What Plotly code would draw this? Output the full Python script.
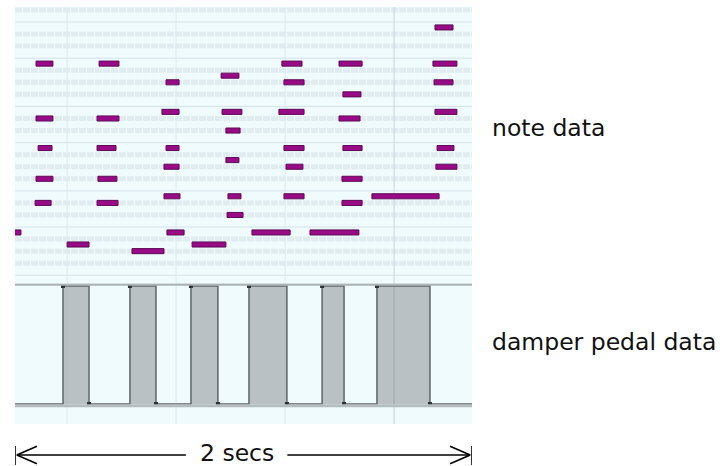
import plotly.graph_objects as go

# ---------------- note events (MIDI pitch, start / end in seconds) ----------------
note_pitch = [88,
              83, 83, 83, 83, 83,
              81,
              80, 80, 80,
              78,
              76, 76, 76, 76,
              75, 75, 75,
              73,
              71, 71, 71, 71, 71, 71,
              69,
              68, 68, 68,
              66, 66, 66,
              64, 64, 64, 64,
              63, 63, 63,
              61,
              59, 59, 59, 59,
              57, 57,
              56]
note_start = [1.838,
              0.092, 0.368, 1.168, 1.418, 1.829,
              0.902,
              0.661, 1.177, 1.834,
              1.435,
              0.643, 0.906, 1.155, 1.838,
              0.092, 0.359, 1.418,
              0.923,
              0.101, 0.359, 0.661, 1.177, 1.435, 1.847,
              0.923,
              0.652, 1.186, 1.842,
              0.092, 0.363, 1.431,
              0.652, 0.932, 1.177, 1.562,
              0.088, 0.359, 1.431,
              0.928,
              -0.030, 0.665, 1.037, 1.291,
              0.228, 0.775,
              0.512]
note_end = [1.917,
            0.166, 0.455, 1.256, 1.519, 1.934,
            0.980,
            0.718, 1.265, 1.917,
            1.514,
            0.718, 0.993, 1.265, 1.934,
            0.166, 0.455, 1.510,
            0.985,
            0.162, 0.442, 0.718, 1.265, 1.519, 1.921,
            0.980,
            0.718, 1.260, 1.934,
            0.166, 0.446, 1.519,
            0.722, 0.989, 1.265, 1.856,
            0.158, 0.451, 1.519,
            0.998,
            0.026, 0.740, 1.204, 1.505,
            0.324, 0.923,
            0.652]

# ---------------- damper pedal (CC64) events ----------------
pedal_times = [0.210, 0.324, 0.503, 0.617, 0.770, 0.888,
               1.024, 1.190, 1.344, 1.440, 1.584, 1.816]
pedal_values = [127, 0, 127, 0, 127, 0,
                127, 0, 127, 0, 127, 0]

# beat grid (seconds); the last one is a bar line
beat_times = [0.228, 0.705, 1.182, 1.659]
beat_is_bar = [False, False, False, True]

# visible pitch window of the piano roll
pitch_low, pitch_high = 52, 91
clip_len = 2.0

# ---------------- keyboard-style row layout ----------------
WHITE_IDX = {0: 0, 2: 1, 4: 2, 5: 3, 7: 4, 9: 5, 11: 6}
BLACK_POS = {1: 1, 3: 2, 6: 4, 8: 5, 10: 6}


def key_pos(p):
    """Vertical position of a pitch in white-key units (C5 bottom edge = 0)."""
    octv = (p - 72) // 12
    pc = p % 12
    if pc in WHITE_IDX:
        return octv * 7 + WHITE_IDX[pc] + 0.55
    return octv * 7 + BLACK_POS[pc]


note_y = [key_pos(p) for p in note_pitch]
note_dur = [e - s for s, e in zip(note_start, note_end)]

black_rows = [key_pos(p) for p in range(pitch_low, pitch_high + 1) if p % 12 in BLACK_POS]
# B/C and E/F boundaries
white_edges = sorted({key_pos(p) - 0.55 for p in range(pitch_low, pitch_high + 1) if p % 12 in (0, 5)})

Y_NOTE = [-11.683, 11.244]
Y_PED = [-21.53, 129.69]

fig = go.Figure()

# black-key row bands (under the notes)
for k in black_rows:
    fig.add_shape(type="line", xref="x", yref="y", x0=0, x1=clip_len, y0=k, y1=k,
                  line=dict(color="#e1ecf1", width=5, dash="7px,1px"), layer="below")

# octave section lines
for k in white_edges:
    fig.add_shape(type="line", xref="x", yref="y", x0=0, x1=clip_len, y0=k, y1=k,
                  line=dict(color="#d4e3e9", width=1), layer="below")

# beat grid in the note lane
for t, bar in zip(beat_times, beat_is_bar):
    col = "#c6d6db" if bar else "#dbebf0"
    fig.add_shape(type="line", xref="x", yref="y", x0=t, x1=t, y0=Y_NOTE[0], y1=Y_NOTE[1],
                  line=dict(color=col, width=1), layer="below")

# notes
fig.add_trace(go.Bar(orientation="h", y=note_y, x=note_dur, base=note_start,
                     width=0.42, yaxis="y",
                     marker=dict(color="#990a86", line=dict(color="#5e0a55", width=1)),
                     hoverinfo="skip", showlegend=False))

# pedal lane: filled step curve
px = [0] + pedal_times + [clip_len]
py = [0] + pedal_values + [pedal_values[-1]]
fig.add_trace(go.Scatter(x=px, y=py, mode="lines", yaxis="y2",
                         line=dict(color="#5d6467", width=1.5, shape="hv"),
                         fill="tozeroy", fillcolor="#b9c1c4",
                         hoverinfo="skip", showlegend=False))

# beat grid in the pedal lane (drawn over the fill)
for t, bar in zip(beat_times, beat_is_bar):
    col = "rgba(110,130,140,0.35)" if bar else "rgba(150,190,205,0.25)"
    fig.add_trace(go.Scatter(x=[t, t], y=Y_PED, mode="lines", yaxis="y2",
                             line=dict(color=col, width=1),
                             hoverinfo="skip", showlegend=False))

fig.add_trace(go.Scatter(x=pedal_times, y=pedal_values, mode="markers", yaxis="y2",
                         marker=dict(symbol="square", size=4, color="#2c3133"),
                         hoverinfo="skip", showlegend=False))

# pedal lane borders
for yv, w, c in [(128.7, 2.5, "#aab2b5"), (-1.9, 3, "#b4bcbf")]:
    fig.add_shape(type="line", xref="x", yref="y2", x0=0, x1=clip_len, y0=yv, y1=yv,
                  line=dict(color=c, width=w), layer="above")

# ---------------- duration arrow below the roll ----------------
H, T, B = 466, 7, 42
plot_h = H - T - B


def py_paper(pix):
    return (H - B - pix) / plot_h


ay = py_paper(455)
tick_top, tick_bot = py_paper(446), py_paper(465)
head_dx = 0.088
head_dy = 8.8 / plot_h
label_x = 0.97
gap = 0.222
arrow = dict(color="#000000", width=1.6)
segs = [
    (0.0, tick_top, 0.0, tick_bot),
    (clip_len, tick_top, clip_len, tick_bot),
    (0.008, ay, label_x - gap, ay),
    (label_x + gap, ay, clip_len - 0.008, ay),
    (0.008, ay, 0.008 + head_dx, ay + head_dy),
    (0.008, ay, 0.008 + head_dx, ay - head_dy),
    (clip_len - 0.008, ay, clip_len - 0.008 - head_dx, ay + head_dy),
    (clip_len - 0.008, ay, clip_len - 0.008 - head_dx, ay - head_dy),
]
for x0, y0, x1, y1 in segs:
    fig.add_shape(type="line", xref="x", yref="paper", x0=x0, y0=y0, x1=x1, y1=y1,
                  line=arrow)

font = dict(family="DejaVu Sans, Verdana, sans-serif", size=23.5, color="#111111")
fig.add_annotation(x=label_x, xref="x", y=py_paper(453), yref="paper",
                   text=f"{clip_len:g} secs", showarrow=False, font=font,
                   xanchor="center", yanchor="middle")
fig.add_annotation(x=(490 - 15) / 457, xref="paper", y=py_paper(128), yref="paper",
                   text="note data", showarrow=False, font=font,
                   xanchor="left", yanchor="middle")
fig.add_annotation(x=(490 - 15) / 457, xref="paper", y=py_paper(342), yref="paper",
                   text="damper pedal data", showarrow=False, font=font,
                   xanchor="left", yanchor="middle")

split = py_paper(283.5)
fig.update_layout(
    width=720, height=H,
    margin=dict(l=15, r=248, t=T, b=B, pad=0),
    paper_bgcolor="#ffffff", plot_bgcolor="#effbfd",
    barmode="overlay", showlegend=False,
    xaxis=dict(range=[0, clip_len], showgrid=False, zeroline=False,
               showticklabels=False, ticks="", anchor="y2", fixedrange=True),
    yaxis=dict(domain=[split, 1], range=Y_NOTE, showgrid=False, zeroline=False,
               showticklabels=False, ticks="", fixedrange=True),
    yaxis2=dict(domain=[0, split], range=Y_PED, showgrid=False, zeroline=False,
                showticklabels=False, ticks="", fixedrange=True),
)

fig.write_html("out.html")
